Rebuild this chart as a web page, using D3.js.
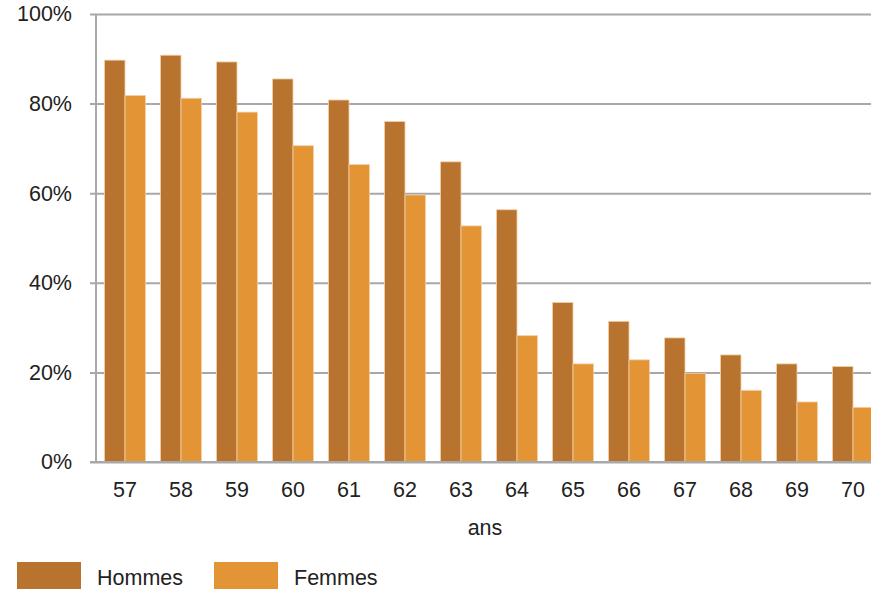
<!DOCTYPE html>
<html>
<head>
<meta charset="utf-8">
<script src="https://cdn.jsdelivr.net/npm/d3@7"></script>
<style>
body { margin: 0; background: #fff; }
svg text { font-family: "Liberation Sans", Arial, sans-serif; fill: #222; }
</style>
</head>
<body>
<svg id="chart"></svg>
<script>
var ages = ["57", "58", "59", "60", "61", "62", "63", "64", "65", "66", "67", "68", "69", "70"];
var hommes = [89.7, 90.8, 89.3, 85.5, 80.8, 76.0, 67.0, 56.3, 35.6, 31.4, 27.7, 23.9, 21.9, 21.3];
var femmes = [81.8, 81.2, 78.1, 70.6, 66.4, 59.6, 52.7, 28.2, 21.9, 22.8, 19.8, 16.0, 13.4, 12.2];
var series = ["Hommes", "Femmes"];
var yTicks = [0, 20, 40, 60, 80, 100];

var width = 871,
height = 589;
var fontSize = "21.5px";
var colors = { Hommes: "#b8732e", Femmes: "#e39536" };

var svg = d3.select("#chart")
.attr("width", width)
.attr("height", height);

var x = d3.scaleBand()
.domain(ages)
.range([97, 97 + 56 * ages.length])
.paddingInner(0.27)
.paddingOuter(0.135);

var x1 = d3.scaleBand()
.domain(series)
.range([0, x.bandwidth()]);

var y = d3.scaleLinear()
.domain([0, 100])
.range([462, 14]);

// gridlines + y labels
var grid = svg.append("g")
.attr("transform", "translate(96,0)")
.call(d3.axisLeft(y).tickValues(yTicks).tickSize(-(width - 96)).tickPadding(24).tickFormat(function(d) { return d + "%"; }));
grid.select(".domain").remove();
grid.selectAll(".tick line")
.attr("x1", -6)
.attr("stroke", "#a8a8a8")
.attr("stroke-width", 2);
grid.selectAll(".tick text")
.style("font-size", fontSize)
.attr("fill", "#222");

// bars
var rows = ages.map(function(a, i) { return { age: a, Hommes: hommes[i], Femmes: femmes[i] }; });

var g = svg.selectAll(".age")
.data(rows)
.enter().append("g")
.attr("class", "age")
.attr("transform", function(d) { return "translate(" + x(d.age) + ",0)"; });

g.selectAll("rect")
.data(function(d) { return series.map(function(s) { return { key: s, value: d[s] }; }); })
.enter().append("rect")
.attr("x", function(d) { return x1(d.key); })
.attr("y", function(d) { return y(d.value); })
.attr("width", x1.bandwidth())
.attr("height", function(d) { return y(0) - y(d.value); })
.attr("fill", function(d) { return colors[d.key]; })
.attr("stroke", "#f2cfa6")
.attr("stroke-width", 0.8);

// axes lines
svg.append("line")
.attr("x1", 96).attr("x2", 96)
.attr("y1", 14).attr("y2", 462)
.attr("stroke", "#a8a8a8").attr("stroke-width", 2);
svg.append("line")
.attr("x1", 90).attr("x2", width)
.attr("y1", 462).attr("y2", 462)
.attr("stroke", "#a8a8a8").attr("stroke-width", 2);

// x labels
var xa = svg.append("g")
.attr("transform", "translate(0,462)")
.call(d3.axisBottom(x).tickSize(0).tickPadding(20));
xa.select(".domain").remove();
xa.selectAll(".tick text")
.style("font-size", fontSize)
.attr("fill", "#222");

svg.append("text")
.attr("x", 485)
.attr("y", 535)
.attr("text-anchor", "middle")
.style("font-size", fontSize)
.text("ans");

// legend
var legend = svg.selectAll(".legend")
.data(series)
.enter().append("g")
.attr("class", "legend")
.attr("transform", function(d, i) { return "translate(" + (17 + i * 197) + ",562)"; });

legend.append("rect")
.attr("width", 64)
.attr("height", 30)
.attr("fill", function(d) { return colors[d]; });

legend.append("text")
.attr("x", 80)
.attr("y", 23)
.style("font-size", fontSize)
.text(function(d) { return d; });
</script>
</body>
</html>
